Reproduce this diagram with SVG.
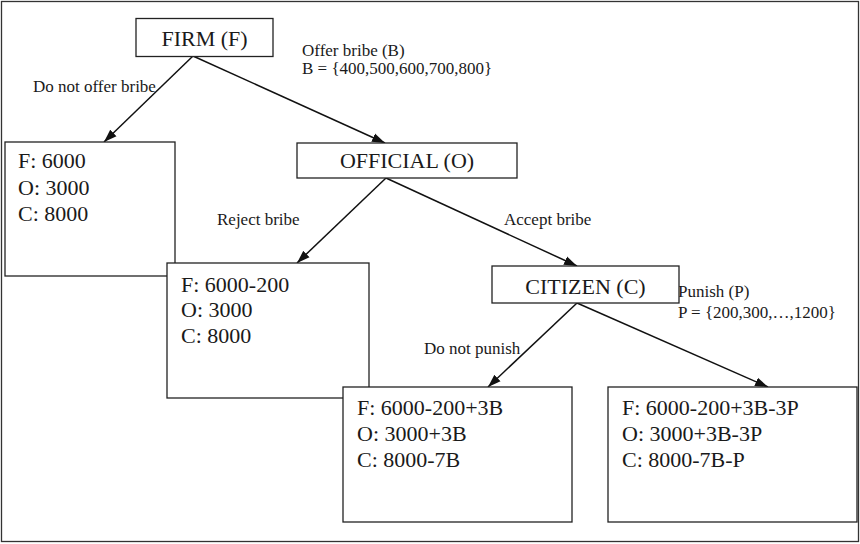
<svg xmlns="http://www.w3.org/2000/svg" width="860" height="544" viewBox="0 0 860 544">
<style>
text{font-family:'Liberation Serif',serif;fill:#1a1a1a}
.title{font-size:22px;text-anchor:middle}
.pay{font-size:22px}
.lab{font-size:17px}
.box{fill:#fff;stroke:#222;stroke-width:1.3}
.edge{stroke:#111;stroke-width:1.5;fill:none;marker-end:url(#ah)}
</style>
<defs>
<marker id="ah" markerUnits="userSpaceOnUse" markerWidth="14" markerHeight="10" refX="13" refY="5" orient="auto">
<path d="M0,0.5 L13,5 L0,9.5 z" fill="#111"/>
</marker>
</defs>
<rect x="0" y="0" width="860" height="544" fill="#fff"/>
<rect x="1.5" y="1.5" width="857" height="540" fill="none" stroke="#333" stroke-width="1.3"/>

<g id="connectors">
<line class="edge" x1="193" y1="56" x2="104" y2="142"/>
<line class="edge" x1="193" y1="56" x2="385" y2="143"/>
<line class="edge" x1="386" y1="178" x2="297" y2="263"/>
<line class="edge" x1="386" y1="178" x2="577" y2="266"/>
<line class="edge" x1="577" y1="303" x2="488" y2="387"/>
<line class="edge" x1="577" y1="303" x2="768" y2="387"/>
</g>

<g id="labels" font-family="'Liberation Serif', serif">
<text class="lab" x="33" y="92">Do not offer bribe</text>
<text class="lab" x="302" y="56">Offer bribe (B)</text>
<text class="lab" x="302" y="74">B = {400,500,600,700,800}</text>
<text class="lab" x="217" y="225">Reject bribe</text>
<text class="lab" x="504" y="225">Accept bribe</text>
<text class="lab" x="678" y="297">Punish (P)</text>
<text class="lab" x="678" y="318">P = {200,300,…,1200}</text>
<text class="lab" x="424" y="354">Do not punish</text>
</g>

<g id="firm">
<rect class="box" x="136" y="18.5" width="137" height="38"/>
<text class="title" x="204.5" y="46">FIRM (F)</text>
</g>

<g id="payoff-no-bribe">
<rect class="box" x="5" y="142" width="170" height="134"/>
<text class="pay" x="18" y="168">F: 6000</text>
<text class="pay" x="18" y="195">O: 3000</text>
<text class="pay" x="18" y="221">C: 8000</text>
</g>

<g id="official">
<rect class="box" x="297" y="143" width="220" height="35"/>
<text class="title" x="407" y="168">OFFICIAL (O)</text>
</g>

<g id="payoff-reject">
<rect class="box" x="167" y="263" width="202" height="135"/>
<text class="pay" x="181" y="292">F: 6000-200</text>
<text class="pay" x="181" y="317">O: 3000</text>
<text class="pay" x="181" y="343">C: 8000</text>
</g>

<g id="citizen">
<rect class="box" x="492" y="266" width="187" height="37"/>
<text class="title" x="585.5" y="294">CITIZEN (C)</text>
</g>

<g id="payoff-no-punish">
<rect class="box" x="343" y="387" width="229" height="135"/>
<text class="pay" x="357" y="415">F: 6000-200+3B</text>
<text class="pay" x="357" y="441">O: 3000+3B</text>
<text class="pay" x="357" y="467">C: 8000-7B</text>
</g>

<g id="payoff-punish">
<rect class="box" x="608" y="387" width="249" height="135"/>
<text class="pay" x="622" y="415">F: 6000-200+3B-3P</text>
<text class="pay" x="622" y="441">O: 3000+3B-3P</text>
<text class="pay" x="622" y="467">C: 8000-7B-P</text>
</g>
</svg>
